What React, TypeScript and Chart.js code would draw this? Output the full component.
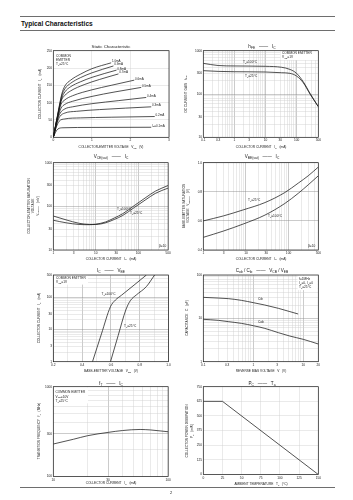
import React, { useEffect, useRef } from "react";
import { Chart, registerables } from "chart.js";
Chart.register(...registerables);

const FONT = "'Liberation Sans', Arial, Helvetica, sans-serif";
const INK = "#1a1a1a";
const GRID_MINOR = "#d0d0d0";
const GRID_MAJOR = "#8a8a8a";

// ================= DATA =================
// 1) Static characteristic: [VCE (V), IC (mA)] per base current
const staticLabels = ["1.0mA", "0.9mA", "0.8mA", "0.7mA", "0.6mA", "0.5mA", "0.4mA", "0.3mA", "0.2mA", "I_{B}=0.1mA"];
const ib10 = [[0, 0], [0.12, 70], [0.22, 125], [0.3, 148], [0.45, 165], [0.7, 182], [1.0, 198], [1.5, 215]];
const ib09 = [[0, 0], [0.12, 68], [0.22, 120], [0.3, 140], [0.45, 156], [0.7, 172], [1.0, 186], [1.56, 206]];
const ib08 = [[0, 0], [0.12, 66], [0.22, 113], [0.3, 131], [0.45, 146], [0.7, 160], [1.0, 173], [1.64, 194]];
const ib07 = [[0, 0], [0.12, 64], [0.2, 104], [0.3, 121], [0.45, 134], [0.8, 152], [1.2, 167], [1.69, 183]];
const ib06 = [[0, 0], [0.12, 62], [0.2, 95], [0.3, 108], [0.5, 120], [1.0, 137], [1.5, 150], [2.1, 165]];
const ib05 = [[0, 0], [0.12, 58], [0.2, 84], [0.3, 95], [0.5, 104], [1.0, 118], [1.6, 131], [2.28, 144]];
const ib04 = [[0, 0], [0.1, 48], [0.18, 70], [0.3, 82], [0.5, 88], [1.0, 97], [1.7, 106], [2.41, 115]];
const ib03 = [[0, 0], [0.1, 42], [0.17, 60], [0.3, 70], [0.6, 75], [1.2, 80], [2.54, 88]];
const ib02 = [[0, 0], [0.08, 30], [0.15, 46], [0.3, 53], [0.7, 56], [1.5, 58], [2.63, 60]];
const ib01 = [[0, 0], [0.06, 15], [0.12, 24], [0.25, 27.5], [1.0, 28.5], [2.54, 29]];
const staticCurves = [ib10, ib09, ib08, ib07, ib06, ib05, ib04, ib03, ib02, ib01];

// 2) hFE vs IC
const hfeIc = [0.1, 0.3, 1, 10, 33, 61, 100, 164, 270, 500];
const hfe100 = [510, 455, 444, 436, 414, 370, 300, 192, 104, 51];
const hfe25 = [346, 333, 327, 322, 310, 300, 260, 182, 100, 51];

// 3) VCE(sat) vs IC (mV)
const vceIc = [1, 2, 4, 7, 10, 17, 27, 43, 80, 150, 255, 500];
const vce100 = [48, 42, 38.5, 38, 39, 44, 54, 68, 104, 160, 225, 300];
const vce25 = [60, 49, 41, 38.5, 38.5, 42, 50, 62, 94, 143, 200, 262];

// 4) VBE(sat) vs IC (V)
const vbeSatIc = [1, 2.95, 8.7, 28, 82, 170, 290, 500];
const vbeSat25 = [0.6, 0.634, 0.676, 0.726, 0.795, 0.86, 0.91, 0.97];
const vbeSat100 = [0.487, 0.53, 0.579, 0.64, 0.72, 0.79, 0.848, 0.91];

// 5) IC vs VBE
const vbe100 = [0.472, 0.534, 0.597, 0.631, 0.673, 0.753, 0.846];
const ic100 = [1, 7.3, 51.9, 83, 117, 228, 500];
const vbe25 = [0.597, 0.65, 0.703, 0.735, 0.776, 0.846, 0.903];
const ic25 = [1, 6.5, 40.7, 79.8, 119.6, 218, 500];

// 6) Capacitance vs reverse voltage
const cibV = [0.1, 0.2, 0.316, 0.58, 1, 1.7, 3.2, 5.4, 7.9];
const cib = [30.5, 29.4, 28.5, 26, 23, 20.3, 17, 14.3, 12.6];
const cobV = [0.1, 0.2, 0.316, 0.58, 1, 1.7, 3.2, 5.4, 10, 20];
const cob = [9.5, 9, 8.4, 7.66, 6.77, 5.87, 4.66, 3.9, 3.28, 2.56];

// 7) fT vs IC
const ftIc = [10, 15, 20, 30, 40, 57, 70, 85, 100];
const ft = [230, 260, 285, 310, 325, 334, 330, 322, 315];

// 8) PC vs Ta
const ta = [0, 25, 150];
const pc = [625, 625, 0];

// tick labels
const xLab2 = [0.1, 0.3, 1, 3, 10, 30, 100, 500];
const yLab2 = [10, 30, 100, 300, 1000];
const xLab34 = [1, 3, 10, 30, 100, 500];
const yLab3 = [10, 30, 100, 300, 1000];
const yLab5 = [1, 3, 10, 30, 100, 500];
const xLab6 = [0.1, 0.3, 1, 3, 10, 20];
const yLab6 = [1, 10, 100];
const xLab7 = [10, 30, 100];
const yLab7 = [100, 300, 1000];

// ================= HELPERS =================
function segs(text: string) {
  const out: { t: string; sub: boolean }[] = [];
  const re = /_\{([^}]*)\}/g;
  let last = 0;
  let m: RegExpExecArray | null;
  while ((m = re.exec(text))) {
    if (m.index > last) out.push({ t: text.slice(last, m.index), sub: false });
    out.push({ t: m[1], sub: true });
    last = re.lastIndex;
  }
  if (last < text.length) out.push({ t: text.slice(last), sub: false });
  return out;
}

function drawRich(ctx: CanvasRenderingContext2D, text: string, x: number, y: number, size: number, align: string = "left", bold = false) {
  const parts = segs(text);
  const f = (s: number) => `${bold ? "bold " : ""}${s}px ${FONT}`;
  let w = 0;
  for (const p of parts) {
    ctx.font = f(p.sub ? size * 0.72 : size);
    w += ctx.measureText(p.t).width;
  }
  let sx = align === "center" ? x - w / 2 : align === "right" ? x - w : x;
  ctx.textBaseline = "middle";
  ctx.textAlign = "left";
  ctx.fillStyle = INK;
  for (const p of parts) {
    const s = p.sub ? size * 0.72 : size;
    ctx.font = f(s);
    ctx.fillText(p.t, sx, y + (p.sub ? size * 0.32 : 0));
    sx += ctx.measureText(p.t).width;
  }
}

const tickFont = { size: 3.2, family: FONT };

function logGrid(min: number, max: number) {
  const out: number[] = [];
  for (let e = Math.floor(Math.log10(min)); e <= Math.ceil(Math.log10(max)); e++) {
    for (let m = 1; m <= 9; m++) {
      const v = parseFloat((m * Math.pow(10, e)).toPrecision(6));
      if (v >= min * 0.9999 && v <= max * 1.0001) out.push(v);
    }
  }
  return out;
}

function logScale(min: number, max: number, labels: number[], majors: number[]) {
  const grid = logGrid(min, max);
  return {
    type: "logarithmic",
    min,
    max,
    afterBuildTicks: (s: any) => {
      s.ticks = grid.map((v) => ({ value: v }));
    },
    ticks: {
      autoSkip: false,
      maxRotation: 0,
      minRotation: 0,
      padding: 1.2,
      font: tickFont,
      color: INK,
      callback: (v: number) => (labels.includes(v) ? String(v) : ""),
    },
    grid: {
      drawTicks: false,
      lineWidth: 0.45,
      color: (c: any) => (c.tick && majors.includes(c.tick.value) ? GRID_MAJOR : GRID_MINOR),
    },
    border: { display: false },
  };
}

function linScale(min: number, max: number, step: number, fmt: (v: number) => string, gridColor: (v: number) => string) {
  return {
    type: "linear",
    min,
    max,
    ticks: {
      stepSize: step,
      autoSkip: false,
      maxRotation: 0,
      minRotation: 0,
      padding: 1.2,
      font: tickFont,
      color: INK,
      callback: (v: number) => fmt(v),
    },
    grid: {
      drawTicks: false,
      lineWidth: 0.45,
      color: (c: any) => (c.tick ? gridColor(c.tick.value) : GRID_MINOR),
    },
    border: { display: false },
  };
}

function series(xs: number[], ys: number[], smooth = true) {
  return {
    data: xs.map((x, i) => ({ x, y: ys[i] })),
    cubicInterpolationMode: smooth ? "monotone" : "default",
    tension: 0,
  };
}
function pairs(p: number[][]) {
  return { data: p.map(([x, y]) => ({ x, y })), cubicInterpolationMode: "monotone" };
}

type Txt = { x: number; y: number; t: string; s?: number; a?: string; r?: boolean };
type Spec = {
  rect: number[];
  plot: number[];
  datasets: any[];
  xs: any;
  ys: any;
  texts: Txt[];
  boxes?: number[][];
  endLabels?: string[];
};

function ChartBox({ spec }: { spec: Spec }) {
  const ref = useRef<HTMLCanvasElement>(null);
  const [cx, cy, cw, ch] = spec.rect;
  useEffect(() => {
    const [L, T, R, B] = spec.plot;
    const deco = {
      id: "deco",
      beforeDatasetsDraw(chart: any) {
        const ctx = chart.ctx;
        ctx.save();
        ctx.fillStyle = "#fff";
        for (const [x, y, w, h] of spec.boxes || []) ctx.fillRect(x - cx, y - cy, w, h);
        ctx.restore();
      },
      afterDatasetsDraw(chart: any) {
        const ctx = chart.ctx as CanvasRenderingContext2D;
        const a = chart.chartArea;
        ctx.save();
        ctx.strokeStyle = INK;
        ctx.lineWidth = 0.7;
        ctx.strokeRect(a.left, a.top, a.right - a.left, a.bottom - a.top);
        (spec.endLabels || []).forEach((lab, i) => {
          const meta = chart.getDatasetMeta(i);
          const p = meta.data[meta.data.length - 1];
          if (p) drawRich(ctx, lab, p.x + 0.8, p.y - 1.4, 3.0, "left");
        });
        for (const t of spec.texts) {
          const x = t.x - cx;
          const y = t.y - cy;
          if (t.r) {
            ctx.save();
            ctx.translate(x, y);
            ctx.rotate(-Math.PI / 2);
            drawRich(ctx, t.t, 0, 0, t.s || 3.2, "center");
            ctx.restore();
          } else {
            drawRich(ctx, t.t, x, y, t.s || 3.2, t.a || "left");
          }
        }
        ctx.restore();
      },
    };
    const chart = new Chart(ref.current as HTMLCanvasElement, {
      type: "line",
      data: { datasets: spec.datasets },
      options: {
        animation: false,
        responsive: false,
        maintainAspectRatio: false,
        events: [],
        layout: { padding: { top: T - cy, right: cx + cw - R, left: 0, bottom: 0 } },
        plugins: { legend: { display: false }, tooltip: { enabled: false }, title: { display: false } },
        elements: {
          point: { radius: 0 },
          line: { borderWidth: 0.75, borderColor: INK, fill: false },
        },
        scales: {
          x: { ...spec.xs, position: "bottom", afterFit: (s: any) => { s.height = cy + ch - B; } },
          y: { ...spec.ys, position: "left", afterFit: (s: any) => { s.width = L - cx; } },
        },
      } as any,
      plugins: [deco as any],
    });
    return () => chart.destroy();
  }, []);
  return (
    <canvas
      ref={ref}
      width={cw}
      height={ch}
      style={{ position: "absolute", left: cx, top: cy, width: cw, height: ch }}
    />
  );
}

// ================= LAYOUT =================
const LX = 18, LW = 154, RX = 174, RW = 162;
const R1 = [36, 116], R2 = [151, 113], R3 = [264, 112], R4 = [376, 112];
const PL = [53.3, 169], PR = [203.3, 318.3];

const linGrid = () => GRID_MINOR;

const specs: Spec[] = [
  {
    rect: [LX, R1[0], LW, R1[1]],
    plot: [PL[0], 50.7, PL[1], 137.3],
    datasets: staticCurves.map(pairs),
    endLabels: staticLabels,
    xs: linScale(0, 3, 1, (v) => String(v), linGrid),
    ys: linScale(0, 250, 50, (v) => String(v), linGrid),
    boxes: [[54, 51.3, 19, 15.5]],
    texts: [
      { x: 111, y: 46.3, t: "Static Characteristic", s: 4.4, a: "center" },
      { x: 40, y: 94, t: "COLLECTOR CURRENT   I_{C}   (mA)", r: true },
      { x: 111, y: 147, t: "COLLECTOR-EMITTER VOLTAGE   V_{CE}   (V)", a: "center" },
      { x: 56, y: 55.7, t: "COMMON" },
      { x: 56, y: 59.8, t: "EMITTER" },
      { x: 56, y: 64.1, t: "T_{a}=25°C" },
    ],
  },
  {
    rect: [RX, R1[0], RW, R1[1]],
    plot: [PR[0], 50.7, PR[1], 137.3],
    datasets: [series(hfeIc, hfe100), series(hfeIc, hfe25)],
    xs: logScale(0.1, 500, xLab2, [1, 10, 100]),
    ys: logScale(10, 1000, yLab2, [100]),
    boxes: [[280.5, 51.3, 37.4, 8.8]],
    texts: [
      { x: 262, y: 46.3, t: "h_{FE}   ——   I_{C}", s: 4.6, a: "center" },
      { x: 185.7, y: 94, t: "DC CURRENT GAIN   h_{FE}", r: true },
      { x: 261, y: 147, t: "COLLECTOR CURRENT   I_{C}   (mA)", a: "center" },
      { x: 282, y: 53.6, t: "COMMON EMITTER" },
      { x: 282, y: 57.5, t: "V_{CE}=1V" },
      { x: 243, y: 62.5, t: "T_{a}=100°C" },
      { x: 245, y: 76, t: "T_{a}=25°C" },
    ],
  },
  {
    rect: [LX, R2[0], LW, R2[1]],
    plot: [PL[0], 162.7, PL[1], 250],
    datasets: [series(vceIc, vce100), series(vceIc, vce25)],
    xs: logScale(1, 500, xLab34, [10, 100]),
    ys: logScale(10, 1000, yLab3, [100]),
    texts: [
      { x: 111, y: 156.5, t: "V_{CE(sat)}   ——   I_{C}", s: 4.6, a: "center" },
      { x: 29.3, y: 206, t: "COLLECTOR-EMITTER SATURATION", r: true },
      { x: 33.5, y: 206, t: "VOLTAGE", r: true },
      { x: 37.8, y: 206, t: "V_{CE(sat)}   (mV)", r: true },
      { x: 111, y: 258.7, t: "COLLECTOR CURRENT   I_{C}   (mA)", a: "center" },
      { x: 117, y: 209, t: "T_{a}=100°C" },
      { x: 130, y: 213.5, t: "T_{a}=25°C" },
      { x: 159, y: 245.7, t: "β=10" },
    ],
  },
  {
    rect: [RX, R2[0], RW, R2[1]],
    plot: [PR[0], 162.7, PR[1], 250],
    datasets: [series(vbeSatIc, vbeSat25), series(vbeSatIc, vbeSat100)],
    xs: logScale(1, 500, xLab34, [10, 100]),
    ys: linScale(0.4, 1.0, 0.2, (v) => v.toFixed(1), () => GRID_MAJOR),
    texts: [
      { x: 262, y: 156.5, t: "V_{BE(sat)}   ——   I_{C}", s: 4.6, a: "center" },
      { x: 184, y: 206, t: "BASE-EMITTER SATURATION", r: true },
      { x: 188.3, y: 206, t: "VOLTAGE   V_{BE(sat)}   (V)", r: true },
      { x: 261, y: 258.7, t: "COLLECTOR CURRENT   I_{C}   (mA)", a: "center" },
      { x: 248, y: 200, t: "T_{a}=25°C" },
      { x: 268, y: 216.5, t: "T_{a}=100°C" },
      { x: 308, y: 245.7, t: "β=10" },
    ],
  },
  {
    rect: [LX, R3[0], LW, R3[1]],
    plot: [PL[0], 275, PL[1], 361.7],
    datasets: [series(vbe100, ic100), series(vbe25, ic25)],
    xs: linScale(0.2, 1.0, 0.1, (v) => (Math.round(v * 10) % 2 === 0 ? v.toFixed(1) : ""), (v) =>
      Math.round(v * 10) % 2 === 0 ? GRID_MAJOR : GRID_MINOR),
    ys: logScale(1, 500, yLab5, [10, 100]),
    boxes: [[54, 275.6, 34, 9]],
    texts: [
      { x: 111, y: 270.7, t: "I_{C}   ——   V_{BE}", s: 4.6, a: "center" },
      { x: 39.3, y: 318, t: "COLLECTOR CURRENT   I_{C}   (mA)", r: true },
      { x: 111, y: 371, t: "BASE-EMITTER VOLTAGE   V_{BE}   (V)", a: "center" },
      { x: 56, y: 278.5, t: "COMMON EMITTER" },
      { x: 56, y: 282.6, t: "V_{CE}=1V" },
      { x: 101.5, y: 294, t: "T_{a}=100°C" },
      { x: 124, y: 326, t: "T_{a}=25°C" },
    ],
  },
  {
    rect: [RX, R3[0], RW, R3[1]],
    plot: [PR[0], 275, PR[1], 361.7],
    datasets: [series(cibV, cib), series(cobV, cob)],
    xs: logScale(0.1, 20, xLab6, [1, 10]),
    ys: logScale(1, 100, yLab6, [10]),
    boxes: [[297.5, 275.6, 20.3, 14.5]],
    texts: [
      { x: 262, y: 270.7, t: "C_{ob} / C_{ib}   ——   V_{CB} / V_{EB}", s: 4.6, a: "center" },
      { x: 186.7, y: 318, t: "CAPACITANCE   C   (pF)", r: true },
      { x: 261, y: 371, t: "REVERSE BIAS VOLTAGE   V   (V)", a: "center" },
      { x: 299, y: 279.3, t: "f=1MHz" },
      { x: 299, y: 283.4, t: "I_{E}=0, I_{C}=0" },
      { x: 299, y: 287.6, t: "T_{a}=25°C" },
      { x: 258, y: 299.3, t: "Cib" },
      { x: 258, y: 321.7, t: "Cob" },
    ],
  },
  {
    rect: [LX, R4[0], LW, R4[1]],
    plot: [PL[0], 386.7, PL[1], 476.5],
    datasets: [series(ftIc, ft)],
    xs: logScale(10, 100, xLab7, [30]),
    ys: logScale(100, 1000, yLab7, [300]),
    boxes: [[54, 387.3, 34, 16]],
    texts: [
      { x: 111, y: 383.3, t: "f_{T}   ——   I_{C}", s: 4.6, a: "center" },
      { x: 39.3, y: 431, t: "TRANSITION FREQUENCY   f_{T}   (MHz)", r: true },
      { x: 111, y: 483.3, t: "COLLECTOR CURRENT   I_{C}   (mA)", a: "center" },
      { x: 55.5, y: 392.5, t: "COMMON EMITTER" },
      { x: 55.5, y: 396.7, t: "V_{CE}=10V" },
      { x: 55.5, y: 401.3, t: "T_{a}=25°C" },
    ],
  },
  {
    rect: [RX, R4[0], RW, R4[1]],
    plot: [PR[0], 386.7, PR[1], 474.5],
    datasets: [series(ta, pc, false)],
    xs: linScale(0, 150, 25, (v) => String(v), linGrid),
    ys: linScale(0, 750, 125, (v) => String(v), linGrid),
    texts: [
      { x: 262, y: 383.3, t: "P_{C}   ——   T_{a}", s: 4.6, a: "center" },
      { x: 187.5, y: 431, t: "COLLECTOR POWER DISSIPATION", r: true },
      { x: 192.2, y: 431, t: "P_{C}   (mW)", r: true },
      { x: 261, y: 484.3, t: "AMBIENT TEMPERATURE   T_{a}   (°C)", a: "center" },
    ],
  },
];

export default function App() {
  return (
    <div style={{ position: "absolute", left: 0, top: 0, width: 353, height: 500, background: "#fff", overflow: "hidden" }}>
      <div style={{ position: "absolute", left: 20, top: 16, width: 315, height: 0, borderTop: "1.2px solid #6e6e6e" }} />
      <div
        style={{
          position: "absolute",
          left: 21,
          top: 19.5,
          fontFamily: FONT,
          fontWeight: 700,
          fontSize: 6.6,
          lineHeight: "8px",
          color: "#111",
          whiteSpace: "nowrap",
        }}
      >
        Typical Characteristics
      </div>
      <div style={{ position: "absolute", left: 20, top: 30.3, width: 315, height: 0, borderTop: "1px solid #6e6e6e" }} />
      {specs.map((s, i) => (
        <ChartBox key={i} spec={s} />
      ))}
      <div style={{ position: "absolute", left: 20, top: 487, width: 315, height: 0, borderTop: "1px solid #6e6e6e" }} />
      <div
        style={{
          position: "absolute",
          left: 170,
          top: 490,
          fontFamily: FONT,
          fontSize: 4,
          lineHeight: "5px",
          color: "#222",
        }}
      >
        2
      </div>
    </div>
  );
}
